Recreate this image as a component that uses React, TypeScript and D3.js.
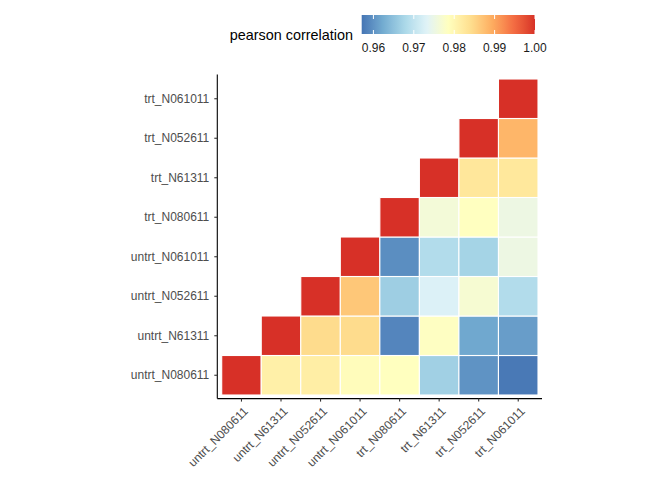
import { useMemo } from 'react';
import * as d3 from 'd3';

const WIDTH = 672;
const HEIGHT = 480;

// samples, bottom-to-top on y and left-to-right on x
const samples = [
  'untrt_N080611',
  'untrt_N61311',
  'untrt_N052611',
  'untrt_N061011',
  'trt_N080611',
  'trt_N61311',
  'trt_N052611',
  'trt_N061011',
];

// each row starts on the diagonal and runs to the right
const rowUntrtN080611 = [1.0, 0.9812, 0.9815, 0.979, 0.9786, 0.9668, 0.96, 0.9575];
const rowUntrtN61311 = [1.0, 0.9843, 0.9843, 0.9587, 0.9783, 0.962, 0.961];
const rowUntrtN052611 = [1.0, 0.9866, 0.9665, 0.9728, 0.9768, 0.9685];
const rowUntrtN061011 = [1.0, 0.9595, 0.9685, 0.9672, 0.9752];
const rowTrtN080611 = [1.0, 0.9762, 0.9785, 0.9752];
const rowTrtN61311 = [1.0, 0.9827, 0.9825];
const rowTrtN052611 = [1.0, 0.9884];
const rowTrtN061011 = [1.0];

const rows = [
  rowUntrtN080611,
  rowUntrtN61311,
  rowUntrtN052611,
  rowUntrtN061011,
  rowTrtN080611,
  rowTrtN61311,
  rowTrtN052611,
  rowTrtN061011,
];

const legendTicks = [0.96, 0.97, 0.98, 0.99, 1.0];
const fillMin = 0.9571;
const fillMax = 1.0;

type Cell = { x: string; y: string; value: number };

export default function App() {
  const cells: Cell[] = useMemo(
    () =>
      rows.flatMap((row, j) =>
        row.map((value, k) => ({ x: samples[j + k], y: samples[j], value }))
      ),
    []
  );

  // panel (area inside axes)
  const panel = { left: 217.3, right: 542, top: 74.6, bottom: 398.6 };

  const xScale = d3.scaleBand<string>().domain(samples).range([221.7, 538]);
  const yScale = d3.scaleBand<string>().domain(samples).range([395, 79]);

  // RdYlBu (9 class), reversed, interpolated in Lab like ggplot
  const palette = [...d3.schemeRdYlBu[9]].reverse();
  const colorDomain = palette.map((_, i) => fillMin + ((fillMax - fillMin) * i) / (palette.length - 1));
  const color = d3
    .scaleLinear<string>()
    .domain(colorDomain)
    .range(palette)
    .interpolate(d3.interpolateLab)
    .clamp(true);

  // legend bar
  const legend = { x0: 361.7, x1: 535, y0: 15, y1: 34 };
  const legendScale = d3.scaleLinear().domain([fillMin, fillMax]).range([legend.x0, legend.x1]);
  const gradStops = d3.range(0, 1.0001, 0.02);

  const axisText = '#4D4D4D';
  const font = '"Liberation Sans", Arial, sans-serif';

  return (
    <svg
      width={WIDTH}
      height={HEIGHT}
      style={{ position: 'absolute', left: 0, top: 0, background: '#fff' }}
      fontFamily={font}
    >
      <defs>
        <linearGradient id="fillGradient" x1="0" x2="1" y1="0" y2="0">
          {gradStops.map((t) => (
            <stop key={t} offset={`${t * 100}%`} stopColor={color(fillMin + t * (fillMax - fillMin))} />
          ))}
        </linearGradient>
      </defs>

      {/* tiles */}
      {cells.map((c) => (
        <rect
          key={`${c.x}-${c.y}`}
          x={xScale(c.x)}
          y={yScale(c.y)}
          width={xScale.bandwidth()}
          height={yScale.bandwidth()}
          fill={color(c.value)}
          stroke="#fff"
          strokeWidth={1.1}
        />
      ))}

      {/* axes */}
      <line x1={panel.left} x2={panel.left} y1={panel.top} y2={panel.bottom} stroke="#000" strokeWidth={1.1} />
      <line x1={panel.left} x2={panel.right} y1={panel.bottom} y2={panel.bottom} stroke="#000" strokeWidth={1.1} />

      {samples.map((s) => {
        const y = (yScale(s) || 0) + yScale.bandwidth() / 2;
        return (
          <g key={`y-${s}`}>
            <line x1={panel.left - 3} x2={panel.left} y1={y} y2={y} stroke="#333" strokeWidth={1.1} />
            <text x={panel.left - 8} y={y} dy="0.35em" textAnchor="end" fontSize={12} fill={axisText}>
              {s}
            </text>
          </g>
        );
      })}

      {samples.map((s) => {
        const x = (xScale(s) || 0) + xScale.bandwidth() / 2;
        return (
          <g key={`x-${s}`}>
            <line x1={x} x2={x} y1={panel.bottom} y2={panel.bottom + 3} stroke="#333" strokeWidth={1.1} />
            <text
              transform={`translate(${x + 1},${panel.bottom + 7}) rotate(-45)`}
              dy="0.75em"
              textAnchor="end"
              fontSize={12}
              fill={axisText}
            >
              {s}
            </text>
          </g>
        );
      })}

      {/* legend */}
      <text x={353} y={35} dy="0.35em" textAnchor="end" fontSize={14.4} fill="#000">
        pearson correlation
      </text>
      <rect
        x={legend.x0}
        y={legend.y0}
        width={legend.x1 - legend.x0}
        height={legend.y1 - legend.y0}
        fill="url(#fillGradient)"
      />
      {legendTicks.map((t) => {
        const x = legendScale(t);
        return (
          <g key={`l-${t}`}>
            <line x1={x} x2={x} y1={legend.y0} y2={legend.y0 + 4} stroke="#fff" strokeWidth={1} />
            <line x1={x} x2={x} y1={legend.y1 - 4} y2={legend.y1} stroke="#fff" strokeWidth={1} />
            <text x={x} y={47.5} dy="0.35em" textAnchor="middle" fontSize={12} fill="#1a1a1a">
              {t.toFixed(2)}
            </text>
          </g>
        );
      })}
    </svg>
  );
}
